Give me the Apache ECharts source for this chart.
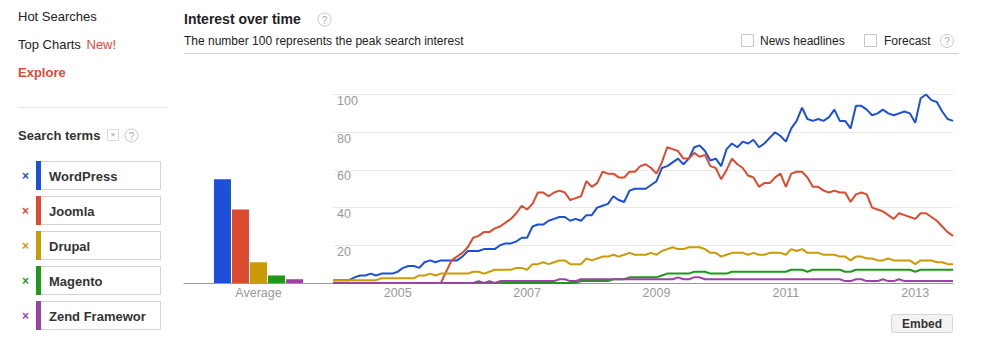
<!DOCTYPE html>
<html>
<head>
<meta charset="utf-8">
<script src="https://cdn.jsdelivr.net/npm/echarts@6/dist/echarts.min.js"></script>
<style>
html,body{margin:0;padding:0;background:#fff;}
#c{width:986px;height:354px;}
</style>
</head>
<body>
<div id="c"></div>
<script>
// ---- data ----
const terms = ['WordPress', 'Joomla', 'Drupal', 'Magento', 'Zend Framework'];
const averages = [55, 39, 11, 4, 2];
const avgCategory = ['Average'];
const yearTicks = ['2005', '2007', '2009', '2011', '2013'];

// monthly, Jan 2004 .. Aug 2013
const wordpress = [1.5,1.5,1.5,1.5,3,4,4,5,4,5,
  5,5,6,8,9,9,8,11,12,11,
  12,12,12,12,14,17,17,17,18,18,
  18,20,21,21,22,24,24,30,31,31,
  33,34,35,35,33,34,33,36,36,40,
  41,42,46,44,43,49,50,50,50,52,
  54,61,62,64,66,63,66,72,73,70,
  65,66,62,71,74,72,75,74,76,72,
  74,77,80,78,75,82,86,93,87,86,
  87,86,88,92,86,86,82,94,94,92,
  89,90,92,90,89,90,91,90,85,98,
  100,97,96,91,87,86];
const joomla = [0,0,0,0,0,0,0,0,0,0,
  0,0,0,0,0,0,0,0,0,0,
  0,6,12,14,16,19,24,25,27,27,
  29,30,32,34,37,41,39,42,48,48,
  46,48,49,48,44,45,46,54,51,53,
  59,58,58,56,56,59,59,62,63,61,
  58,64,72,71,70,66,66,69,67,68,
  62,61,55,60,66,63,61,57,56,51,
  53,53,56,58,51,58,59,59,56,51,
  51,49,48,49,48,48,43,47,48,47,
  40,39,38,36,34,37,36,35,34,37,
  37,35,33,30,27,25];
const drupal = [1.5,1.5,1.5,1.5,1.5,1.5,1.5,1.5,1.5,2.5,
  2.5,2.5,2.5,2.5,2.5,2.5,4,4,5,4,
  5,5,5,5,5,5,6,6,5,6,
  7,7,7,7,8,8,7,10,10,11,
  10,11,12,12,10,10,10,13,12,13,
  14,14,15,14,15,16,15,15,15,16,
  15,17,18,19,18,18,19,19,19,18,
  16,16,14,15,16,16,16,15,16,15,
  15,16,16,16,15,18,17,18,16,16,
  16,15,15,15,14,14,12,14,14,13,
  13,12,12,13,12,12,12,12,10,12,
  12,12,11,11,10,10];
const magento = [0,0,0,0,0,0,0,0,0,0,
  0,0,0,0,0,0,0,0,0,0,
  0,0,0,0,0,0,0,0,0,0,
  0,0,0,0,0,0,0,0,0,0,
  0,0,0,0,0,0,1,1,1,1,
  1,1,2,2,2,3,3,3,3,3,
  3,4,5,5,5,5,5,6,6,6,
  5,5,5,5,6,6,6,6,6,6,
  6,6,6,6,6,7,7,7,6,7,
  7,7,7,7,7,6,6,7,7,7,
  7,7,7,7,7,7,7,7,6,7,
  7,7,7,7,7,7];
const zend = [0,0,0,0,0,0,0,0,0,0,
  0,0,0,0,0,0,0,0,0,0,
  0,0,0,0,0,0,0,1,0,1,
  0,1,1,1,1,1,1,1,1,1,
  1,1,2,2,1,1,2,2,2,2,
  2,2,2,2,2,2,2,2,2,2,
  2,2,2,2,3,2,2,3,3,2,
  2,2,2,2,2,2,2,2,2,2,
  2,2,2,2,2,2,2,2,2,2,
  2,2,2,2,2,1,1,2,2,1,
  1,1,2,1,1,2,1,1,1,1,
  1,1,1,1,1,1];
const seriesData = [wordpress, joomla, drupal, magento, zend];

const months = [];
for (let y = 2004; y <= 2013; y++) {
  for (let m = 1; m <= 12; m++) {
    if (months.length < wordpress.length) months.push(y + '-' + (m < 10 ? '0' + m : m));
  }
}

// ---- style ----
const colors = ['#1c50d8', '#dc4a30', '#cc9a04', '#1f9a18', '#9a42a6'];
const FONT = '"Liberation Sans", Arial, sans-serif';

const chart = echarts.init(document.getElementById('c'), null, {renderer: 'svg'});

function txt(x, y, text, font, fill, extra) {
  return Object.assign({
    type: 'text', x: x, y: y, silent: true,
    style: Object.assign({text: text, font: font, fill: fill,
      textVerticalAlign: 'middle', verticalAlign: 'middle'}, {})
  }, extra || {});
}
function help(cx, cy) {
  return [
    {type: 'circle', shape: {cx: cx, cy: cy, r: 6.5}, style: {fill: '#fff', stroke: '#c8c8c8', lineWidth: 1}, silent: true},
    {type: 'text', x: cx, y: cy + 0.5, silent: true, style: {text: '?', font: '10px ' + FONT, fill: '#aaa', textAlign: 'center', align: 'center', textVerticalAlign: 'middle', verticalAlign: 'middle'}}
  ];
}

const graphics = [];
graphics.push(txt(18, 16, 'Hot Searches', '13px ' + FONT, '#222'));
graphics.push(txt(18, 44, 'Top Charts', '13px ' + FONT, '#222'));
graphics.push(txt(86.5, 44, 'New!', '13px ' + FONT, '#dd4b39'));
graphics.push(txt(18, 72, 'Explore', 'bold 13px ' + FONT, '#dd4b39'));
graphics.push({type: 'line', silent: true, shape: {x1: 18, y1: 107.5, x2: 168, y2: 107.5}, style: {stroke: '#e8e8e8', lineWidth: 1}});
graphics.push(txt(18, 135, 'Search terms', 'bold 13px ' + FONT, '#333'));
graphics.push({type: 'rect', silent: true, shape: {x: 107.5, y: 129.5, width: 11, height: 11}, style: {fill: '#fff', stroke: '#dcdcdc', lineWidth: 1}});
graphics.push({type: 'polygon', silent: true, shape: {points: [[110.5, 133.5], [115.5, 133.5], [113, 136.5]]}, style: {fill: '#bbb'}});
help(131.5, 135.5).forEach(g => graphics.push(g));

terms.forEach((name, k) => {
  const top = 161.5 + 35 * k;
  graphics.push({type: 'rect', silent: true, shape: {x: 36.5, y: top, width: 124, height: 28}, style: {fill: '#fff', stroke: '#d3d3d3', lineWidth: 1}});
  graphics.push({type: 'rect', silent: true, shape: {x: 36, y: top - 0.5, width: 5, height: 29}, style: {fill: colors[k]}});
  graphics.push({type: 'text', x: 49, y: top + 14.5, silent: true,
    style: {text: name, font: 'bold 13px ' + FONT, fill: '#333', textVerticalAlign: 'middle', verticalAlign: 'middle',
      width: 103, overflow: 'truncate', ellipsis: ''}});
  graphics.push({type: 'text', x: 25.5, y: top + 14.5, silent: true,
    style: {text: '\u00d7', font: 'bold 12px ' + FONT, fill: colors[k], textAlign: 'center', align: 'center', textVerticalAlign: 'middle', verticalAlign: 'middle'}});
});

graphics.push(txt(184, 19, 'Interest over time', 'bold 14px ' + FONT, '#222'));
help(324.5, 19.5).forEach(g => graphics.push(g));
graphics.push(txt(184, 41, 'The number 100 represents the peak search interest', '12px ' + FONT, '#222'));
graphics.push({type: 'line', silent: true, shape: {x1: 184, y1: 53.5, x2: 959, y2: 53.5}, style: {stroke: '#cfcfcf', lineWidth: 1}});
graphics.push({type: 'rect', silent: true, shape: {x: 741.5, y: 34.5, width: 12, height: 12}, style: {fill: '#fff', stroke: '#c6c6c6', lineWidth: 1}});
graphics.push(txt(760, 41, 'News headlines', '12px ' + FONT, '#222'));
graphics.push({type: 'rect', silent: true, shape: {x: 864.5, y: 34.5, width: 12, height: 12}, style: {fill: '#fff', stroke: '#c6c6c6', lineWidth: 1}});
graphics.push(txt(884, 41, 'Forecast', '12px ' + FONT, '#222'));
help(947, 41).forEach(g => graphics.push(g));
graphics.push({type: 'rect', silent: true, shape: {x: 891.5, y: 314.5, width: 61, height: 18, r: 2}, style: {fill: '#f3f3f3', stroke: '#d6d6d6', lineWidth: 1}});
graphics.push({type: 'text', x: 922, y: 324, silent: true,
  style: {text: 'Embed', font: 'bold 12px ' + FONT, fill: '#333', textAlign: 'center', align: 'center', textVerticalAlign: 'middle', verticalAlign: 'middle'}});

const series = [];
terms.forEach((name, k) => {
  series.push({
    name: name, type: 'bar', xAxisIndex: 0, yAxisIndex: 0,
    data: [averages[k]], barWidth: 17, barGap: '6%',
    itemStyle: {color: colors[k]}, silent: true
  });
});
terms.forEach((name, k) => {
  series.push({
    name: name, type: 'line', xAxisIndex: 1, yAxisIndex: 1,
    data: seriesData[k], symbol: 'none', showSymbol: false,
    lineStyle: {color: colors[k], width: 2}, itemStyle: {color: colors[k]},
    silent: true, z: 3
  });
});

const option = {
  animation: false,
  backgroundColor: '#fff',
  textStyle: {fontFamily: FONT},
  grid: [
    {left: 184, top: 94.5, width: 149, height: 188.5},
    {left: 333, top: 94.5, width: 620, height: 188.5}
  ],
  xAxis: [
    {type: 'category', gridIndex: 0, data: avgCategory,
      axisLine: {lineStyle: {color: '#9a9a9a', width: 1}}, axisTick: {show: false},
      axisLabel: {color: '#999', fontSize: 12.5, margin: 3, fontFamily: FONT}},
    {type: 'category', gridIndex: 1, data: months, boundaryGap: false,
      axisLine: {lineStyle: {color: '#9a9a9a', width: 1}}, axisTick: {show: false},
      axisLabel: {color: '#999', fontSize: 12.5, margin: 3, fontFamily: FONT,
        interval: function (idx, val) { return yearTicks.indexOf(String(val).slice(0, 4)) >= 0 && String(val).slice(5) === '01'; },
        formatter: function (val) { return String(val).slice(0, 4); }},
      splitLine: {show: false}}
  ],
  yAxis: [
    {type: 'value', gridIndex: 0, min: 0, max: 100, show: false},
    {type: 'value', gridIndex: 1, min: 0, max: 100, interval: 20,
      axisLine: {show: false}, axisTick: {show: false},
      splitLine: {lineStyle: {color: '#e9e9e9', width: 1}},
      axisLabel: {inside: true, showMinLabel: false, color: '#999', fontSize: 12.5, margin: 4,
        verticalAlign: 'top', fontFamily: FONT}}
  ],
  graphic: graphics,
  series: series
};
chart.setOption(option);
</script>
</body>
</html>
